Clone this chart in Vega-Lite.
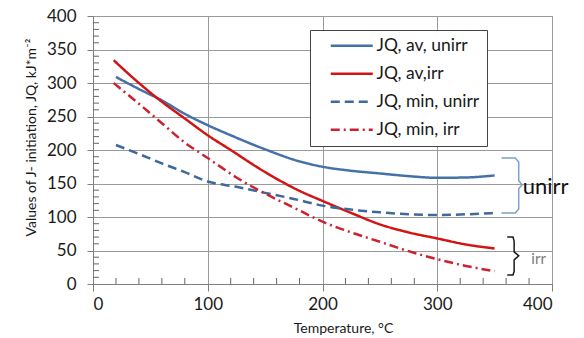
{
  "$schema": "https://vega.github.io/schema/vega-lite/v6.json",
  "width": 459,
  "height": 268,
  "autosize": {"type": "none"},
  "padding": {"left": 93, "top": 16, "right": 32, "bottom": 54},
  "background": "white",
  "config": {
    "font": "Lato",
    "view": {"stroke": "#7f7f7f", "strokeWidth": 1},
    "axis": {
      "labelFont": "Lato",
      "titleFont": "Lato",
      "labelColor": "#1a1a1a",
      "titleColor": "#1a1a1a",
      "domainColor": "#7f7f7f",
      "tickColor": "#7f7f7f",
      "gridColor": "#9a9a9a",
      "gridOpacity": 1,
      "labelFontSize": 17,
      "titleFontWeight": "normal",
      "zindex": 0
    }
  },
  "datasets": {
    "curves": [
      {"series": "JQ, av, unirr", "T": 20, "J": 309},
      {"series": "JQ, av, unirr", "T": 40, "J": 291},
      {"series": "JQ, av, unirr", "T": 60, "J": 274},
      {"series": "JQ, av, unirr", "T": 80, "J": 254},
      {"series": "JQ, av, unirr", "T": 100, "J": 237},
      {"series": "JQ, av, unirr", "T": 120, "J": 222},
      {"series": "JQ, av, unirr", "T": 150, "J": 201},
      {"series": "JQ, av, unirr", "T": 180, "J": 183},
      {"series": "JQ, av, unirr", "T": 200, "J": 175},
      {"series": "JQ, av, unirr", "T": 225, "J": 169},
      {"series": "JQ, av, unirr", "T": 250, "J": 165},
      {"series": "JQ, av, unirr", "T": 275, "J": 161},
      {"series": "JQ, av, unirr", "T": 300, "J": 158.5},
      {"series": "JQ, av, unirr", "T": 325, "J": 159},
      {"series": "JQ, av, unirr", "T": 350, "J": 162},
      {"series": "JQ, av,irr", "T": 18, "J": 334},
      {"series": "JQ, av,irr", "T": 40, "J": 300},
      {"series": "JQ, av,irr", "T": 60, "J": 272},
      {"series": "JQ, av,irr", "T": 80, "J": 247},
      {"series": "JQ, av,irr", "T": 100, "J": 222},
      {"series": "JQ, av,irr", "T": 120, "J": 200},
      {"series": "JQ, av,irr", "T": 150, "J": 167},
      {"series": "JQ, av,irr", "T": 180, "J": 139},
      {"series": "JQ, av,irr", "T": 200, "J": 124},
      {"series": "JQ, av,irr", "T": 225, "J": 106},
      {"series": "JQ, av,irr", "T": 250, "J": 89},
      {"series": "JQ, av,irr", "T": 275, "J": 77},
      {"series": "JQ, av,irr", "T": 300, "J": 68},
      {"series": "JQ, av,irr", "T": 325, "J": 59},
      {"series": "JQ, av,irr", "T": 350, "J": 53},
      {"series": "JQ, min, unirr", "T": 20, "J": 207.5},
      {"series": "JQ, min, unirr", "T": 40, "J": 194},
      {"series": "JQ, min, unirr", "T": 60, "J": 180},
      {"series": "JQ, min, unirr", "T": 80, "J": 167},
      {"series": "JQ, min, unirr", "T": 100, "J": 153},
      {"series": "JQ, min, unirr", "T": 125, "J": 145},
      {"series": "JQ, min, unirr", "T": 150, "J": 136},
      {"series": "JQ, min, unirr", "T": 175, "J": 127},
      {"series": "JQ, min, unirr", "T": 200, "J": 117},
      {"series": "JQ, min, unirr", "T": 225, "J": 111},
      {"series": "JQ, min, unirr", "T": 250, "J": 107},
      {"series": "JQ, min, unirr", "T": 275, "J": 104},
      {"series": "JQ, min, unirr", "T": 300, "J": 103},
      {"series": "JQ, min, unirr", "T": 325, "J": 104},
      {"series": "JQ, min, unirr", "T": 350, "J": 106},
      {"series": "JQ, min, irr", "T": 18, "J": 300},
      {"series": "JQ, min, irr", "T": 40, "J": 269},
      {"series": "JQ, min, irr", "T": 60, "J": 240},
      {"series": "JQ, min, irr", "T": 80, "J": 211},
      {"series": "JQ, min, irr", "T": 100, "J": 188},
      {"series": "JQ, min, irr", "T": 125, "J": 159},
      {"series": "JQ, min, irr", "T": 150, "J": 135},
      {"series": "JQ, min, irr", "T": 175, "J": 114},
      {"series": "JQ, min, irr", "T": 200, "J": 93},
      {"series": "JQ, min, irr", "T": 225, "J": 77},
      {"series": "JQ, min, irr", "T": 250, "J": 63},
      {"series": "JQ, min, irr", "T": 275, "J": 49},
      {"series": "JQ, min, irr", "T": 300, "J": 37},
      {"series": "JQ, min, irr", "T": 325, "J": 27},
      {"series": "JQ, min, irr", "T": 350, "J": 19}
    ],
    "braceUnirr": [
      {"k": 1, "T": 356, "J": 188},
      {"k": 2, "T": 368, "J": 188},
      {"k": 3, "T": 371, "J": 182},
      {"k": 4, "T": 371, "J": 154},
      {"k": 5, "T": 374, "J": 148},
      {"k": 6, "T": 371, "J": 142},
      {"k": 7, "T": 371, "J": 112},
      {"k": 8, "T": 368, "J": 106},
      {"k": 9, "T": 356, "J": 106}
    ],
    "braceIrr": [
      {"k": 1, "T": 361, "J": 70},
      {"k": 2, "T": 366, "J": 70},
      {"k": 3, "T": 367, "J": 64},
      {"k": 4, "T": 367, "J": 48},
      {"k": 5, "T": 371, "J": 42},
      {"k": 6, "T": 367, "J": 36},
      {"k": 7, "T": 367, "J": 19},
      {"k": 8, "T": 366, "J": 13.5},
      {"k": 9, "T": 361, "J": 13.5}
    ],
    "noteUnirr": [{"label": "unirr", "T": 374.5, "J": 145}],
    "noteIrr": [{"label": "irr", "T": 382, "J": 37}],
    "minorX": [
      {"T": 20, "J": 0}, {"T": 40, "J": 0}, {"T": 60, "J": 0}, {"T": 80, "J": 0},
      {"T": 120, "J": 0}, {"T": 140, "J": 0}, {"T": 160, "J": 0}, {"T": 180, "J": 0},
      {"T": 220, "J": 0}, {"T": 240, "J": 0}, {"T": 260, "J": 0}, {"T": 280, "J": 0},
      {"T": 320, "J": 0}, {"T": 340, "J": 0}, {"T": 360, "J": 0}, {"T": 380, "J": 0}
    ],
    "minorY": [
      {"T": 0, "J": 10}, {"T": 0, "J": 20}, {"T": 0, "J": 30}, {"T": 0, "J": 40},
      {"T": 0, "J": 60}, {"T": 0, "J": 70}, {"T": 0, "J": 80}, {"T": 0, "J": 90},
      {"T": 0, "J": 110}, {"T": 0, "J": 120}, {"T": 0, "J": 130}, {"T": 0, "J": 140},
      {"T": 0, "J": 160}, {"T": 0, "J": 170}, {"T": 0, "J": 180}, {"T": 0, "J": 190},
      {"T": 0, "J": 210}, {"T": 0, "J": 220}, {"T": 0, "J": 230}, {"T": 0, "J": 240},
      {"T": 0, "J": 260}, {"T": 0, "J": 270}, {"T": 0, "J": 280}, {"T": 0, "J": 290},
      {"T": 0, "J": 310}, {"T": 0, "J": 320}, {"T": 0, "J": 330}, {"T": 0, "J": 340},
      {"T": 0, "J": 360}, {"T": 0, "J": 370}, {"T": 0, "J": 380}, {"T": 0, "J": 390}
    ]
  },
  "encoding": {
    "x": {
      "field": "T",
      "type": "quantitative",
      "scale": {"domain": [0, 400], "nice": false, "zero": true},
      "axis": {
        "orient": "bottom",
        "values": [0, 100, 200, 300, 400],
        "grid": true,
        "tickSize": 7,
        "labelPadding": 5,
        "labelFontSize": 17,
        "title": "Temperature, °C",
        "titleFontSize": 14,
        "titleX": 250,
        "titleY": 48,
        "titleAlign": "center",
        "titleBaseline": "alphabetic"
      }
    },
    "y": {
      "field": "J",
      "type": "quantitative",
      "scale": {"domain": [0, 400], "nice": false},
      "axis": {
        "orient": "left",
        "values": [0, 50, 100, 150, 200, 250, 300, 350, 400],
        "grid": true,
        "tickSize": 6,
        "labelPadding": 11,
        "labelFontSize": 17,
        "title": "Values of J- initiation, JQ, kJ*m⁻²",
        "titleFontSize": 14,
        "titleAngle": 270,
        "titleX": -58,
        "titleY": 121,
        "titleAlign": "center",
        "titleBaseline": "alphabetic"
      }
    }
  },
  "layer": [
    {
      "data": {"name": "curves"},
      "mark": {"type": "line", "strokeWidth": 2.5, "interpolate": "monotone"},
      "encoding": {
        "color": {
          "field": "series",
          "type": "nominal",
          "scale": {
            "domain": ["JQ, av, unirr", "JQ, av,irr", "JQ, min, unirr", "JQ, min, irr"],
            "range": ["#4472a8", "#d21414", "#3f699c", "#cc2230"]
          },
          "legend": {
            "title": null,
            "orient": "none",
            "legendX": 217,
            "legendY": 14,
            "symbolType": "M-1,0L5,0",
            "symbolSize": 196,
            "symbolStrokeWidth": 2.5,
            "labelFont": "Lato",
            "labelFontSize": 17.5,
            "labelColor": "#1a1a1a",
            "labelOffset": 30,
            "labelLimit": 300,
            "padding": 7,
            "symbolOffset": 12,
            "rowPadding": 9,
            "fillColor": "white",
            "strokeColor": "#444444"
          }
        },
        "strokeDash": {
          "field": "series",
          "type": "nominal",
          "scale": {
            "domain": ["JQ, av, unirr", "JQ, av,irr", "JQ, min, unirr", "JQ, min, irr"],
            "range": [[1, 0], [1, 0], [9, 5], [9, 4, 2, 4]]
          },
          "legend": {
            "title": null,
            "orient": "none",
            "legendX": 217,
            "legendY": 14,
            "symbolType": "M-1,0L5,0",
            "symbolSize": 196,
            "symbolStrokeWidth": 2.5,
            "labelFont": "Lato",
            "labelFontSize": 17.5,
            "labelColor": "#1a1a1a",
            "labelOffset": 30,
            "labelLimit": 300,
            "padding": 7,
            "symbolOffset": 12,
            "rowPadding": 9,
            "fillColor": "white",
            "strokeColor": "#444444"
          }
        }
      }
    },
    {
      "data": {"name": "braceUnirr"},
      "mark": {"type": "line", "color": "#7f9fcc", "strokeWidth": 1.5, "interpolate": "linear", "clip": false},
      "encoding": {"order": {"field": "k"}}
    },
    {
      "data": {"name": "braceIrr"},
      "mark": {"type": "line", "color": "#1a1a1a", "strokeWidth": 1.5, "interpolate": "linear", "clip": false},
      "encoding": {"order": {"field": "k"}}
    },
    {
      "data": {"name": "noteUnirr"},
      "mark": {"type": "text", "align": "left", "baseline": "middle", "font": "Lato", "fontSize": 22, "color": "#111111"},
      "encoding": {"text": {"field": "label"}}
    },
    {
      "data": {"name": "noteIrr"},
      "mark": {"type": "text", "align": "left", "baseline": "middle", "font": "Lato", "fontSize": 15, "color": "#7a7a7a"},
      "encoding": {"text": {"field": "label"}}
    },
    {
      "data": {"name": "minorX"},
      "mark": {"type": "tick", "orient": "vertical", "size": 6, "thickness": 1, "color": "#666666", "opacity": 1, "yOffset": -3}
    },
    {
      "data": {"name": "minorY"},
      "mark": {"type": "tick", "orient": "horizontal", "size": 6, "thickness": 1, "color": "#666666", "opacity": 1, "xOffset": 3}
    }
  ]
}
